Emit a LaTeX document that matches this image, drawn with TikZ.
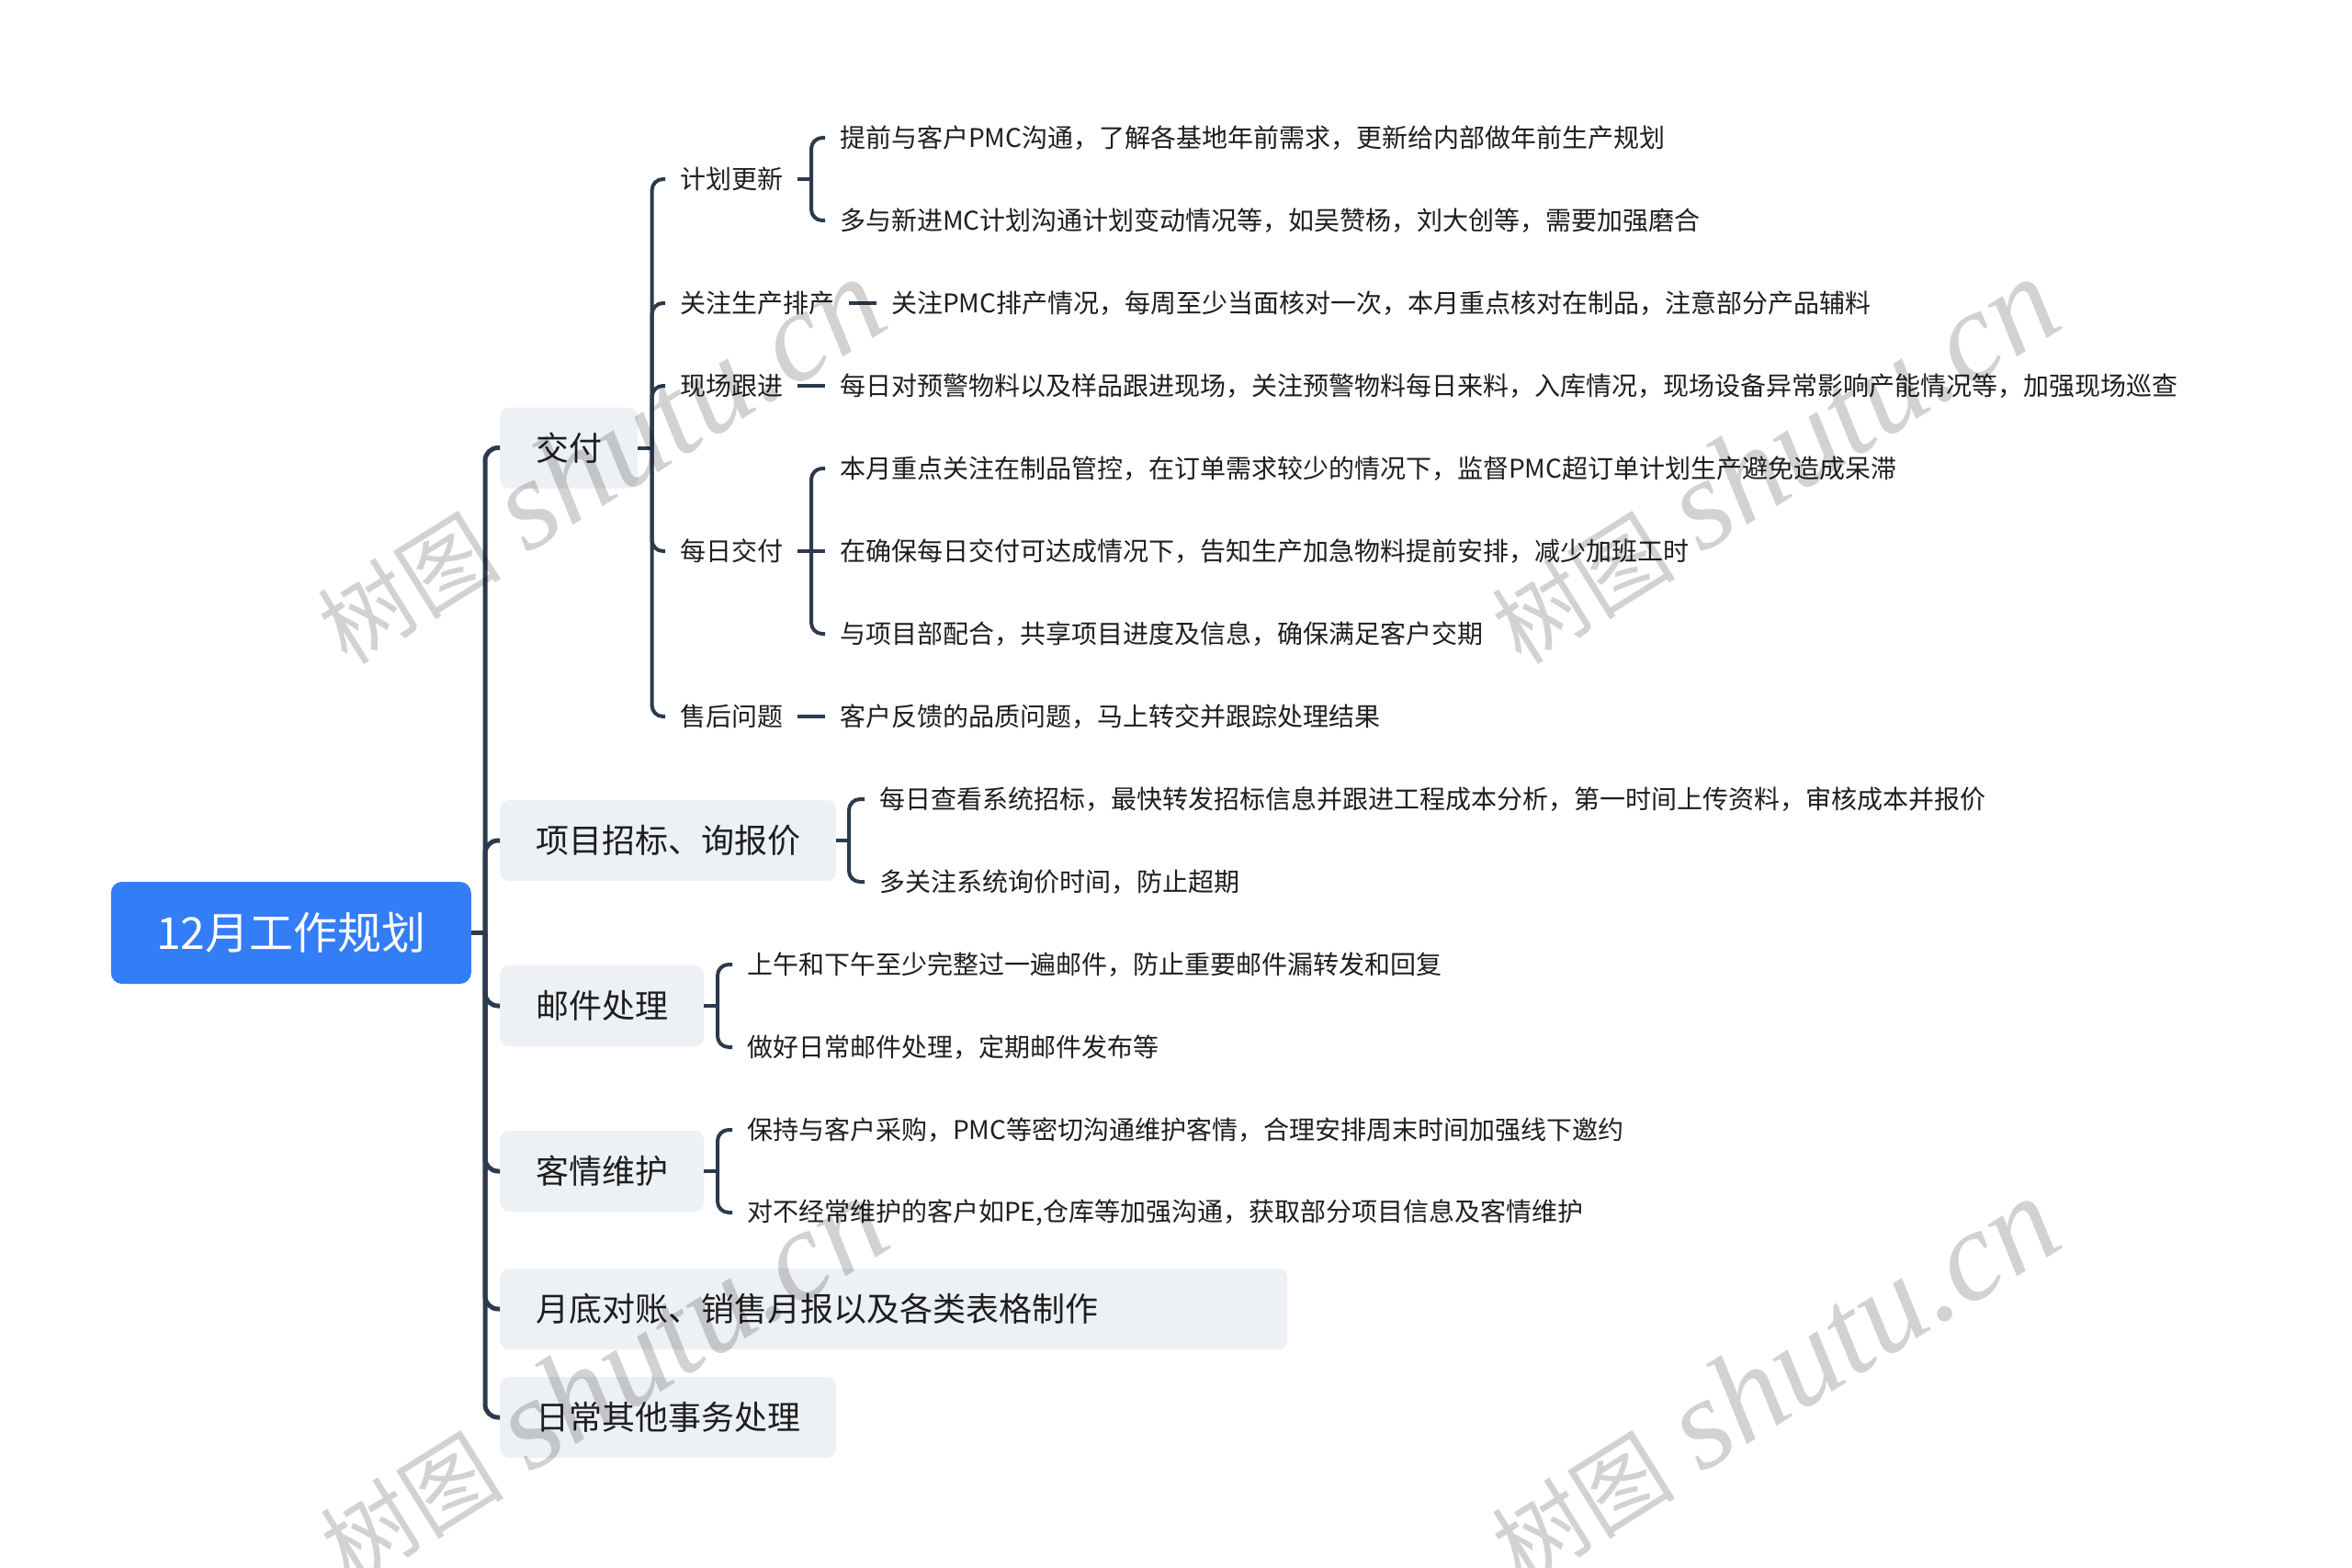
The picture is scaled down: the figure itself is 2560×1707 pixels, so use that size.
\documentclass[tikz,border=0pt]{standalone}
\usepackage{fontspec}
\setmainfont{Noto Sans CJK SC}
\newfontfamily\wmlatin{Liberation Serif}
\newfontfamily\wmcjk{Noto Sans CJK SC}
\definecolor{linec}{HTML}{2C3A4E}
\definecolor{rootc}{HTML}{337DF6}
\definecolor{boxc}{HTML}{EDF0F4}
\definecolor{wmc}{HTML}{D2D2D2}
\definecolor{txtc}{HTML}{1E1E1E}
\begin{document}
\begin{tikzpicture}[x=1pt,y=-1pt,
  rootnode/.style={rectangle, rounded corners=12pt, fill=rootc, text=white,
    font=\fontsize{48}{48}\selectfont, minimum width=392pt, minimum height=111pt, inner sep=0pt},
  lone/.style={rectangle, rounded corners=10pt, fill=boxc, text=txtc,
    font=\fontsize{36}{36}\selectfont, minimum height=88pt, inner xsep=39pt, inner ysep=0pt, anchor=west},
  ltwo/.style={font=\fontsize{28}{28}\selectfont, text=txtc, inner xsep=16pt, inner ysep=0pt, anchor=west},
  trunkline/.style={draw=linec, line width=5pt, rounded corners=14pt},
  conn/.style={draw=linec, line width=4pt, rounded corners=12pt},
  wm/.style={text=wmc, inner sep=0pt, rotate=32}
]
\useasboundingbox (0,0) rectangle (2560,1707);

% root
\node[rootnode] (root) at (316.75,1015.5) {12月工作规划};

% level 1
\node[lone] (jf) at (544,487.5) {交付};
\node[lone] (xm) at (544,915) {项目招标、询报价};
\node[lone] (yj) at (544,1095) {邮件处理};
\node[lone] (kq) at (544,1275) {客情维护};
\node[lone, text width=779pt, align=left] (yd) at (544,1425) {月底对账、销售月报以及各类表格制作};
\node[lone] (rc) at (544,1543) {日常其他事务处理};

% level 2
\node[ltwo] (jh) at (724,195) {计划更新};
\node[ltwo] (gz) at (724,330) {关注生产排产};
\node[ltwo] (xc) at (724,420) {现场跟进};
\node[ltwo] (mr) at (724,600) {每日交付};
\node[ltwo] (sh) at (724,780) {售后问题};

% level 3
\node[ltwo] (a1) at (898,150) {提前与客户PMC沟通，了解各基地年前需求，更新给内部做年前生产规划};
\node[ltwo] (a2) at (898,240) {多与新进MC计划沟通计划变动情况等，如吴赞杨，刘大创等，需要加强磨合};
\node[ltwo] (b1) at (954,330) {关注PMC排产情况，每周至少当面核对一次，本月重点核对在制品，注意部分产品辅料};
\node[ltwo] (c1) at (898,420) {每日对预警物料以及样品跟进现场，关注预警物料每日来料，入库情况，现场设备异常影响产能情况等，加强现场巡查};
\node[ltwo] (d1) at (898,510) {本月重点关注在制品管控，在订单需求较少的情况下，监督PMC超订单计划生产避免造成呆滞};
\node[ltwo] (d2) at (898,600) {在确保每日交付可达成情况下，告知生产加急物料提前安排，减少加班工时};
\node[ltwo] (d3) at (898,690) {与项目部配合，共享项目进度及信息，确保满足客户交期};
\node[ltwo] (e1) at (898,780) {客户反馈的品质问题，马上转交并跟踪处理结果};
\node[ltwo] (f1) at (941,870) {每日查看系统招标，最快转发招标信息并跟进工程成本分析，第一时间上传资料，审核成本并报价};
\node[ltwo] (f2) at (941,960) {多关注系统询价时间，防止超期};
\node[ltwo] (g1) at (797,1050) {上午和下午至少完整过一遍邮件，防止重要邮件漏转发和回复};
\node[ltwo] (g2) at (797,1140) {做好日常邮件处理，定期邮件发布等};
\node[ltwo] (h1) at (797,1230) {保持与客户采购，PMC等密切沟通维护客情，合理安排周末时间加强线下邀约};
\node[ltwo] (h2) at (797,1320) {对不经常维护的客户如PE,仓库等加强沟通，获取部分项目信息及客情维护};

% junction coordinates
\coordinate (T) at (528,1015.5);
\coordinate (J) at (709.6,487.5);
\coordinate (JH) at (883,195);
\coordinate (MR) at (883,600);
\coordinate (XM) at (924,915);
\coordinate (YJ) at (781,1095);
\coordinate (KQ) at (781,1275);

% trunk
\draw[trunkline] (root.east) -- (T);
\foreach \c in {jf,xm,yj,kq,yd,rc} { \draw[trunkline] (T) |- (\c.west); }

% level 2 connectors
\draw[conn] (jf.east) -- (J);
\foreach \c in {jh,gz,xc,mr,sh} { \draw[conn] (J) |- (\c.west); }

% level 3 connectors
\draw[conn] (jh.east) -- (JH);
\draw[conn] (JH) |- (a1.west);
\draw[conn] (JH) |- (a2.west);
\draw[conn] (gz.east) -- (b1.west);
\draw[conn] (xc.east) -- (c1.west);
\draw[conn] (mr.east) -- (MR);
\draw[conn] (MR) |- (d1.west);
\draw[conn] (MR) -- (d2.west);
\draw[conn] (MR) |- (d3.west);
\draw[conn] (sh.east) -- (e1.west);
\draw[conn] (xm.east) -- (XM);
\draw[conn] (XM) |- (f1.west);
\draw[conn] (XM) |- (f2.west);
\draw[conn] (yj.east) -- (YJ);
\draw[conn] (YJ) |- (g1.west);
\draw[conn] (YJ) |- (g2.west);
\draw[conn] (kq.east) -- (KQ);
\draw[conn] (KQ) |- (h1.west);
\draw[conn] (KQ) |- (h2.west);

% watermarks
\begin{scope}[blend mode=multiply]
\foreach \p/\n in {{(652,502)}/w1,{(1930,502)}/w2,{(655,1503)}/w3,{(1930,1503)}/w4} {
  \node[wm] (\n) at \p {{\wmcjk\fontsize{100}{100}\selectfont 树图}\hspace{30pt}{\wmlatin\itshape\fontsize{140}{140}\selectfont shutu.cn}};
}
\end{scope}
\end{tikzpicture}
\end{document}
